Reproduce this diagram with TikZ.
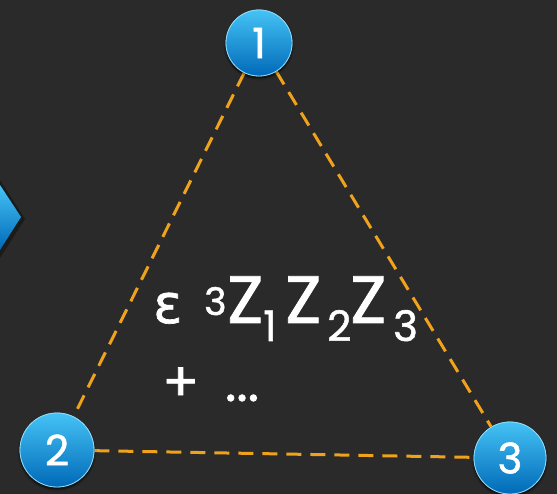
\documentclass[tikz,border=0pt]{standalone}
\usepackage{fontspec}
\setmainfont{Poppins}
\newfontfamily\greekfont[FakeBold=1.2]{DejaVu Sans}
\newfontfamily\heavy[FakeBold=1.3]{Poppins}
\usetikzlibrary{shadows.blur}
\definecolor{bg}{HTML}{2A2A2A}
\definecolor{dashc}{HTML}{F0A21C}
\definecolor{ballT}{HTML}{45C3F5}
\definecolor{ballB}{HTML}{0069B8}
\tikzset{
  ball/.style={circle, minimum size=68pt, inner sep=0pt, draw=ballT!60!white, line width=0.8pt,
    top color=ballT, bottom color=ballB, text=white, font=\heavy\fontsize{42}{42}\selectfont,
    blur shadow={shadow blur steps=6, shadow xshift=0pt, shadow yshift=-2pt, shadow opacity=50}},
  link/.style={draw=dashc, line width=3pt, dash pattern=on 15pt off 9pt},
  lbl/.style={text=white, inner sep=0pt, anchor=base west}
}
% place #2 at horizontal offset #1 (pt) from the start of the line, raised by #3
\newcommand{\putat}[3]{\rlap{\hspace*{#1pt}\raisebox{#3pt}{#2}}}
\newcommand{\subsz}{\fontsize{42}{42}\selectfont}
\begin{document}
\begin{tikzpicture}[x=1pt,y=-1pt]
\fill[bg] (0,0) rectangle (557,494);
\useasboundingbox (0,0) rectangle (557,494);
% left arrow
\fill[black, opacity=0.35] (0,180) -- (25,219) -- (0,258) -- cycle;
\shade[top color=ballT, bottom color=ballB] (0,185) -- (21,217) -- (0,250) -- cycle;
\node[ball, minimum size=66pt] (n1) at (259,43) {1};
\node[ball, minimum size=74pt] (n2) at (57,450) {2};
\node[ball, minimum size=72pt] (n3) at (510,458) {3};
\path[link] (n1) -- (n2);
\path[link] (n1) -- (n3);
\path[link] (n2) -- (n3);
\node[ball, minimum size=66pt] at (n1) {1};
\node[ball, minimum size=74pt] at (n2) {2};
\node[ball, minimum size=72pt] at (n3) {3};
\node[lbl, font=\heavy\fontsize{67}{67}\selectfont] (expr) at (153,323)
  {\putat{0}{\greekfont\fontsize{54}{54}\selectfont ε}{0}%
   \putat{51}{\fontsize{38}{38}\selectfont 3}{8}%
   \putat{74}{Z}{0}%
   \putat{110}{\subsz 1}{-18}%
   \putat{132}{Z}{0}%
   \putat{174}{\subsz 2}{-18}%
   \putat{197}{Z}{0}%
   \putat{240}{\subsz 3}{-18}%
   \hspace*{262pt}};
\node[lbl, font=\heavy\fontsize{54}{54}\selectfont] (more) at (162,401) {+\hspace{26pt}...};
\end{tikzpicture}
\end{document}
